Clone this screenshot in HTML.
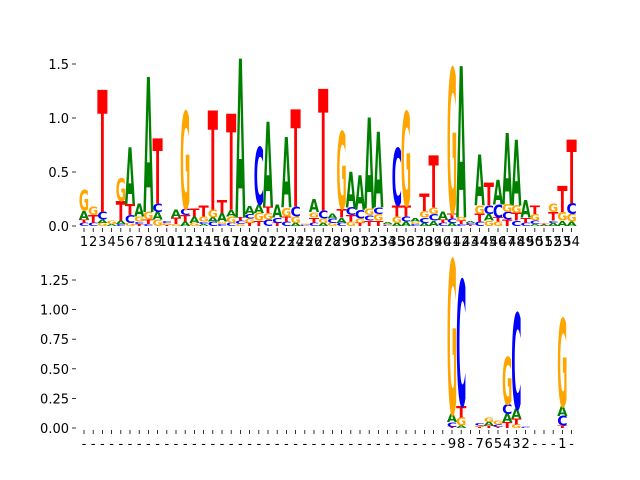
<!DOCTYPE html>
<html><head><meta charset="utf-8"><style>
body{margin:0;background:#fff;}
svg{display:block;font-family:"DejaVu Sans","Liberation Sans",sans-serif;}
</style></head><body>
<svg id="chart" width="640" height="480" viewBox="0 0 640 480"></svg>
<script>
// Top logo: stacks per position (bottom->top), heights in bits
const topPositions = ["1","2","3","4","5","6","7","8","9","10","11","12","13","14","15","16","17","18","19","20","21","22","23","24","25","26","27","28","29","30","31","32","33","34","35","36","37","38","39","40","41","42","43","44","45","46","47","48","49","50","51","52","53","54"];
const topStacks = [
[["C",.03],["T",.03],["A",.08],["G",.19]],
[["C",.03],["T",.07],["G",.08]],
[["G",.03],["A",.03],["C",.07],["T",1.13]],
[["A",.02],["G",.03]],
[["C",.02],["A",.03],["T",.18],["G",.21]],
[["G",.03],["C",.07],["T",.1],["A",.53]],
[["T",.02],["C",.02],["G",.05],["A",.12]],
[["C",.02],["T",.04],["G",.07],["A",1.25]],
[["G",.06],["A",.07],["C",.08],["T",.6]],
[["T",.01],["G",.02],["C",.02]],
[["G",.02],["T",.06],["A",.07]],
[["A",.04],["T",.06],["C",.06],["G",.9]],
[["G",.03],["A",.06],["T",.07]],
[["A",.02],["C",.02],["G",.05],["T",.1]],
[["C",.04],["A",.04],["G",.07],["T",.92]],
[["C",.02],["G",.02],["A",.08],["T",.12]],
[["C",.03],["G",.06],["A",.06],["T",.89]],
[["G",.02],["C",.03],["T",.03],["A",1.47]],
[["T",.03],["G",.04],["C",.04],["A",.07]],
[["T",.05],["G",.07],["A",.08],["C",.53]],
[["C",.06],["G",.06],["T",.06],["A",.78]],
[["T",.03],["C",.05],["A",.12]],
[["C",.04],["T",.05],["G",.08],["A",.65]],
[["A",.03],["G",.06],["C",.09],["T",.9]],
[["C",.01],["G",.01]],
[["C",.03],["T",.05],["G",.05],["A",.12]],
[["A",.03],["G",.04],["C",.07],["T",1.13]],
[["G",.03],["C",.04],["A",.05]],
[["C",.03],["A",.05],["T",.08],["G",.71]],
[["G",.04],["T",.06],["C",.07],["A",.33]],
[["T",.03],["G",.04],["C",.08],["A",.32]],
[["T",.05],["C",.05],["G",.06],["A",.84]],
[["T",.05],["G",.06],["C",.06],["A",.7]],
[["C",.01],["G",.01],["A",.02]],
[["A",.03],["G",.06],["T",.1],["C",.53]],
[["A",.04],["C",.05],["T",.1],["G",.87]],
[["C",.02],["G",.02],["A",.03]],
[["A",.03],["C",.05],["G",.06],["T",.16]],
[["A",.05],["C",.06],["G",.06],["T",.48]],
[["C",.03],["T",.03],["A",.07]],
[["A",.03],["C",.04],["T",.05],["G",1.34]],
[["C",.02],["T",.03],["G",.03],["A",1.4]],
[["T",.01],["C",.02],["A",.02]],
[["C",.04],["T",.07],["G",.08],["A",.47]],
[["G",.05],["A",.06],["C",.08],["T",.21]],
[["G",.04],["T",.04],["C",.12],["A",.23]],
[["T",.06],["C",.07],["G",.07],["A",.66]],
[["C",.05],["T",.07],["G",.07],["A",.61]],
[["C",.03],["T",.05],["A",.16]],
[["A",.02],["C",.03],["G",.06],["T",.08]],
[["A",.01],["T",.01]],
[["A",.03],["C",.02],["T",.08],["G",.08]],
[["A",.05],["G",.08],["T",.24]],
[["A",.04],["G",.07],["C",.1],["T",.59]]
];
const topTicks = [0,0.5,1.0,1.5];
const topTickLabels = ["0.0","0.5","1.0","1.5"];
// Bottom logo
const bottomLabels = ["-","-","-","-","-","-","-","-","-","-","-","-","-","-","-","-","-","-","-","-","-","-","-","-","-","-","-","-","-","-","-","-","-","-","-","-","-","-","-","-","9","8","-","7","6","5","4","3","2","-","-","-","1","-"];
const bottomStackIndex = [40,41,43,44,45,46,47,48,52];
const bottomStacks = [
[["T",.01],["C",.04],["A",.07],["G",1.3]],
[["A",.02],["G",.07],["T",.1],["C",1.06]],
[["T",.01],["G",.01],["C",.02]],
[["T",.02],["A",.03],["G",.04]],
[["T",.01],["C",.02],["G",.03]],
[["T",.05],["A",.07],["C",.08],["G",.4]],
[["G",.03],["T",.05],["A",.08],["C",.81]],
[["C",.01]],
[["T",.02],["C",.08],["A",.08],["G",.74]]
];
const bottomTicks = [0,0.25,0.5,0.75,1.0,1.25];
const bottomTickLabels = ["0.00","0.25","0.50","0.75","1.00","1.25"];

const colors = {A:"#008000",C:"#0000ff",G:"#ffa500",T:"#ff0000"};
const NS = "http://www.w3.org/2000/svg";
const svg = document.getElementById('chart');
const x0 = 84, step = 9.2, lw = 10.2;
function xPos(i){ return x0 + step*i; }
function mk(tag, attrs, parent){
  const e = document.createElementNS(NS, tag);
  for (const k in attrs) e.setAttribute(k, attrs[k]);
  (parent||svg).appendChild(e);
  return e;
}
function drawPanel(name, y0, pxPerUnit, stacks, idx, ticks, tickLabels, xlabels){
  const g = mk('g', {});
  
  
  ticks.forEach((t,k)=>{
    const y = y0 - t*pxPerUnit;
    const tk = mk('line',{x1:72,x2:76,y1:y,y2:y,stroke:'#000','stroke-width':0.8},g);
    
    
    const tl = mk('text',{x:69,y:y+5,'text-anchor':'end','font-size':13,fill:'#000'},g);
    tl.textContent = tickLabels[k];
    
    
  });
  xlabels.forEach((lab,i)=>{
    const x = xPos(i);
    const tk = mk('line',{x1:x,x2:x,y1:y0+2,y2:y0+6,stroke:'#000','stroke-width':0.8},g);
    
    
    const tl = mk('text',{x:x,y:y0+20,'text-anchor':'middle','font-size':13,fill:'#000'},g);
    tl.textContent = lab;
    
    
  });
  stacks.forEach((st,k)=>{
    const i = idx[k];
    const cx = xPos(i);
    let base = 0;
    st.forEach(([L,h])=>{
      const hp = h*pxPerUnit;
      const yb = y0 - base*pxPerUnit;
      base += h;
      if (hp < 0.3) return;
      const F = 20;
      const sy = hp/(0.729*F);
      const t = mk('text',{transform:`translate(${cx-lw/2},${yb}) scale(1,${sy})`,
        'font-size':F,'font-weight':'bold',fill:colors[L],
        textLength:lw,lengthAdjust:'spacingAndGlyphs'},g);
      t.textContent = L;
      
      
    });
  });
}
drawPanel('top-logo', 226, 108, topStacks, topStacks.map((_,i)=>i), topTicks, topTickLabels, topPositions);
drawPanel('bottom-logo', 428, 118.4, bottomStacks, bottomStackIndex, bottomTicks, bottomTickLabels, bottomLabels);
</script>
</body></html>
